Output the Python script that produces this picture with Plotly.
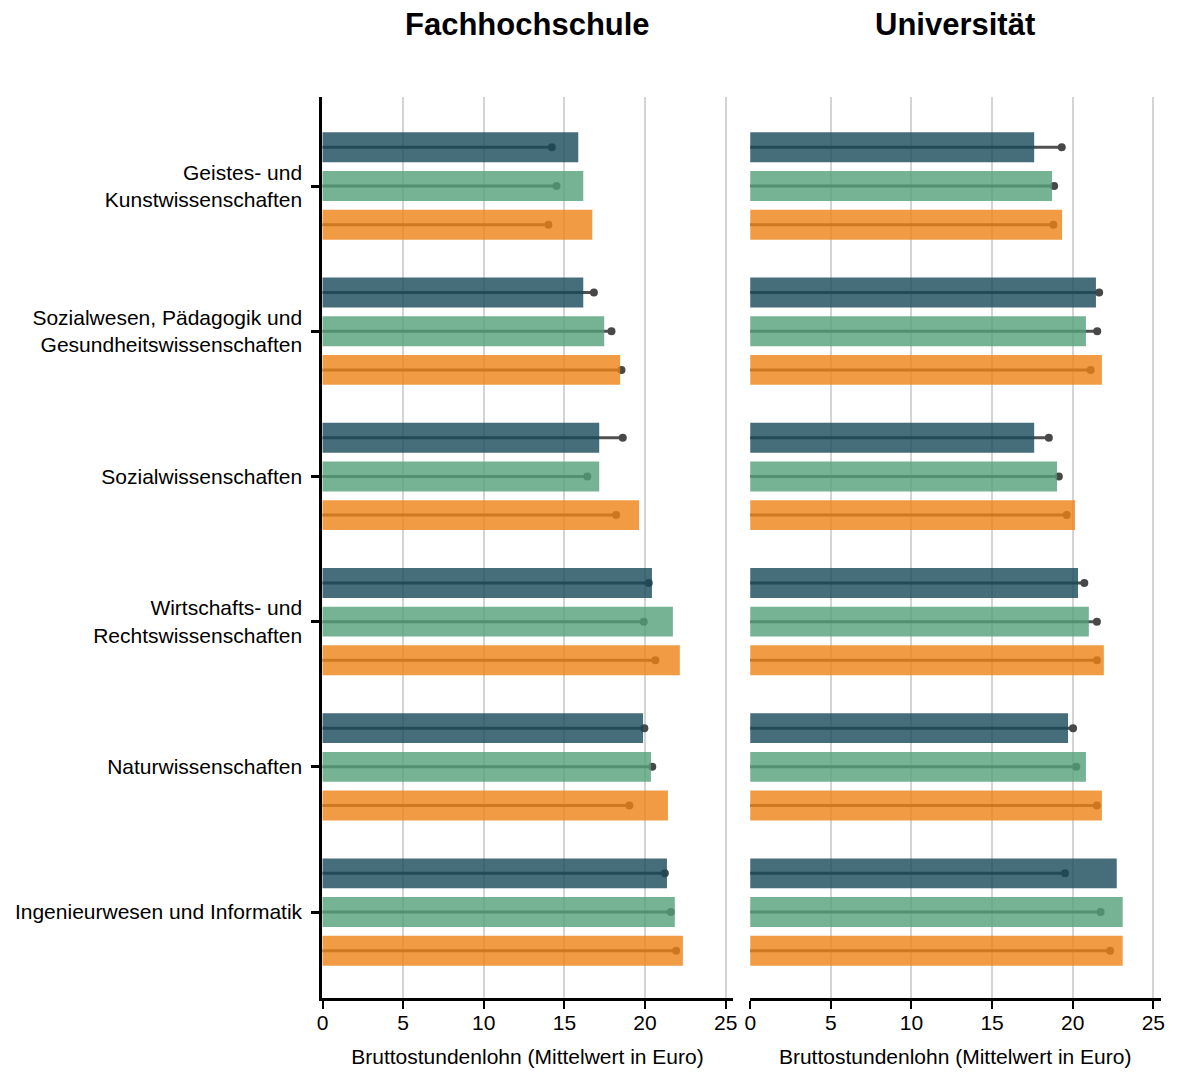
import plotly.graph_objects as go

# ---------------- data ----------------
categories = [
    "Geistes- und<br>Kunstwissenschaften",
    "Sozialwesen, Pädagogik und<br>Gesundheitswissenschaften",
    "Sozialwissenschaften",
    "Wirtschafts- und<br>Rechtswissenschaften",
    "Naturwissenschaften",
    "Ingenieurwesen und Informatik",
]
series_names = ["Gruppe 1", "Gruppe 2", "Gruppe 3"]
panel_titles = ["Fachhochschule", "Universität"]
x_ticks = [0, 5, 10, 15, 20, 25]
x_title = "Bruttostundenlohn (Mittelwert in Euro)"

# Fachhochschule: bars (mean) and lollipop values
fh_bar_1 = [15.86, 16.17, 17.16, 20.43, 19.88, 21.36]
fh_bar_2 = [16.17, 17.47, 17.16, 21.73, 20.37, 21.85]
fh_bar_3 = [16.73, 18.46, 19.63, 22.16, 21.42, 22.35]
fh_dot_1 = [14.22, 16.83, 18.62, 20.23, 19.96, 21.23]
fh_dot_2 = [14.51, 17.92, 16.42, 19.92, 20.45, 21.60]
fh_dot_3 = [14.01, 18.54, 18.21, 20.64, 19.03, 21.93]

# Universität
uni_bar_1 = [17.61, 21.44, 17.61, 20.33, 19.71, 22.73]
uni_bar_2 = [18.72, 20.82, 19.03, 21.00, 20.82, 23.10]
uni_bar_3 = [19.34, 21.81, 20.14, 21.93, 21.81, 23.10]
uni_dot_1 = [19.32, 21.64, 18.52, 20.72, 20.02, 19.52]
uni_dot_2 = [18.85, 21.52, 19.14, 21.50, 20.22, 21.73]
uni_dot_3 = [18.80, 21.11, 19.63, 21.50, 21.50, 22.32]

# ---------------- style ----------------
W, H = 1177, 1072
FONT = "Liberation Sans, Arial, Helvetica, sans-serif"
bar_colors = ["rgba(24,74,89,0.8)", "rgba(84,160,121,0.8)", "rgba(237,131,22,0.8)"]
line_color = "#505050"
dot_color = "#484848"
offsets = [-0.2665, 0.0, 0.2665]
bar_width = 0.206
x_range = [-0.03, 25.45]
y_range = [5.592, -0.613]
y_dom = [1 - 998 / H, 1 - 97 / H]
x_doms = [[319.5 / W, 733.5 / W], [750.5 / W, 1164.5 / W]]

panels = [
    ([fh_bar_1, fh_bar_2, fh_bar_3], [fh_dot_1, fh_dot_2, fh_dot_3]),
    ([uni_bar_1, uni_bar_2, uni_bar_3], [uni_dot_1, uni_dot_2, uni_dot_3]),
]
base_x = ["x", "x2"]
base_y = ["y", "y2"]
over_x = ["x3", "x4"]

fig = go.Figure()
idx = list(range(len(categories)))

for p, (bars, dots) in enumerate(panels):
    # lollipops on the base subplot (drawn beneath the bars)
    for k in range(3):
        pos = [i + offsets[k] for i in idx]
        lx, ly = [], []
        for v, yy in zip(dots[k], pos):
            lx += [0, v, None]
            ly += [yy, yy, None]
        fig.add_trace(go.Scatter(
            x=lx, y=ly, mode="lines", line=dict(color=line_color, width=3),
            xaxis=base_x[p], yaxis=base_y[p], showlegend=False, hoverinfo="skip"))
        fig.add_trace(go.Scatter(
            x=dots[k], y=pos, mode="markers",
            marker=dict(color=dot_color, size=8, line=dict(width=0)),
            xaxis=base_x[p], yaxis=base_y[p], showlegend=False, name=series_names[k]))
    # bars on an overlaying x axis -> drawn above lollipops
    for k in range(3):
        pos = [i + offsets[k] for i in idx]
        fig.add_trace(go.Bar(
            x=bars[k], y=pos, orientation="h", width=bar_width,
            marker=dict(color=bar_colors[k], line=dict(width=0)),
            xaxis=over_x[p], yaxis=base_y[p], showlegend=False, name=series_names[k]))

xaxis_common = dict(
    range=x_range, tickvals=x_ticks, ticktext=[str(t) for t in x_ticks],
    showgrid=True, gridcolor="#d4d4d4", gridwidth=1.7, zeroline=False,
    showline=True, linecolor="black", linewidth=2.5,
    ticks="outside", ticklen=8, tickwidth=2.2, tickcolor="black",
    ticklabelstandoff=-4,
    tickfont=dict(size=21, color="black", family=FONT),
    title=dict(text=x_title, font=dict(size=21, color="black", family=FONT), standoff=17),
)

fig.update_layout(
    width=W, height=H,
    margin=dict(l=0, r=0, t=0, b=0),
    plot_bgcolor="white", paper_bgcolor="white",
    font=dict(family=FONT, color="black"),
    barmode="overlay",
    showlegend=False,
    xaxis=dict(domain=x_doms[0], anchor="y", **xaxis_common),
    xaxis2=dict(domain=x_doms[1], anchor="y2", **xaxis_common),
    xaxis3=dict(overlaying="x", range=x_range, visible=False, showgrid=False, zeroline=False),
    xaxis4=dict(overlaying="x2", range=x_range, visible=False, showgrid=False, zeroline=False),
    yaxis=dict(
        domain=y_dom, anchor="x", range=y_range,
        tickvals=idx, ticktext=categories,
        showgrid=False, zeroline=False,
        showline=True, linecolor="black", linewidth=2.5,
        ticks="outside", ticklen=8, tickwidth=2.5, tickcolor="black",
        ticklabelstandoff=5,
        tickfont=dict(size=21, color="black", family=FONT),
    ),
    yaxis2=dict(
        domain=y_dom, anchor="x2", range=y_range,
        showticklabels=False, showgrid=False, zeroline=False, showline=False, ticks="",
    ),
)

for p, title in enumerate(panel_titles):
    fig.add_annotation(
        text="<b>" + title + "</b>", xref="paper", yref="paper",
        x=(x_doms[p][0] + x_doms[p][1]) / 2, y=1 - 25 / H,
        xanchor="center", yanchor="middle", showarrow=False,
        font=dict(size=31, color="black", family=FONT),
    )

fig.write_html(
    "out.html",
    config={"displayModeBar": False},
    post_script="document.body.style.margin='0';document.body.style.padding='0';",
)
